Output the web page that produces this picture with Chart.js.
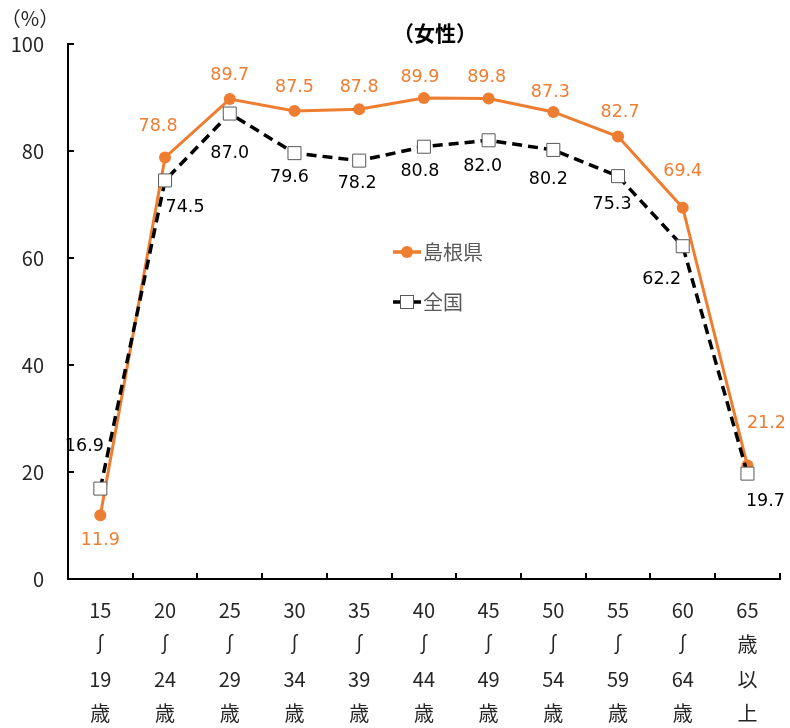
<!DOCTYPE html>
<html lang="ja">
<head>
<meta charset="utf-8">
<title>年齢階級別労働力率（女性）</title>
<script src="https://cdn.jsdelivr.net/npm/chart.js@4/dist/chart.umd.min.js"></script>
<style>
  html, body { margin: 0; padding: 0; background: #fff; }
  canvas { display: block; }
</style>
</head>
<body>
<canvas id="chart" width="790" height="728"></canvas>
<script>
// Age groups (one array per category, drawn as stacked lines under the axis)
const ageGroups = [
  ["15", "∫", "19", "歳"],
  ["20", "∫", "24", "歳"],
  ["25", "∫", "29", "歳"],
  ["30", "∫", "34", "歳"],
  ["35", "∫", "39", "歳"],
  ["40", "∫", "44", "歳"],
  ["45", "∫", "49", "歳"],
  ["50", "∫", "54", "歳"],
  ["55", "∫", "59", "歳"],
  ["60", "∫", "64", "歳"],
  ["65", "歳", "以", "上"]
];

// Labour force participation rate (%), women
const shimaneRates  = [11.9, 78.8, 89.7, 87.5, 87.8, 89.9, 89.8, 87.3, 82.7, 69.4, 21.2];
const nationalRates = [16.9, 74.5, 87.0, 79.6, 78.2, 80.8, 82.0, 80.2, 75.3, 62.2, 19.7];

const seriesNames = ["島根県", "全国"];
const yTickValues = [0, 20, 40, 60, 80, 100];

const chartTitle = "（女性）";
const unitLabel = "（%）";

// ---- styling ----
const ORANGE = "#ED7D31";
const BLACK = "#000000";
const TEXT = "#262626";
const LEGEND_TEXT = "#595959";
const CJK = "'Noto Sans CJK JP', 'Noto Sans', sans-serif";
const NUM = "'DejaVu Sans', sans-serif";

// value-label nudges (dx, dy in px from each point), kept apart from the data
const labelNudges = [
  [[0, 25], [-7, -31], [0, -24], [0, -23], [0, -22], [-4, -21], [-2, -21], [-3, -19], [2, -24], [0, -36], [19, -42]],
  [[-16, -42], [20, 27], [0, 40], [-5, 24], [-2, 23], [-4, 25], [-6, 26], [-5, 30], [-6, 28], [-21, 33], [18, 28]]
];

// Draws value labels, the title, the unit and the in-plot legend
const annotate = {
  id: "annotate",
  afterDatasetsDraw(chart) {
    const ctx = chart.ctx;
    ctx.save();
    ctx.textAlign = "center";
    ctx.textBaseline = "middle";
    ctx.font = "17.5px " + NUM;
    chart.data.datasets.forEach((ds, di) => {
      const meta = chart.getDatasetMeta(di);
      ctx.fillStyle = ds.labelColor;
      meta.data.forEach((pt, i) => {
        const [dx, dy] = labelNudges[di][i];
        ctx.fillText(ds.data[i].toFixed(1), pt.x + dx, pt.y + dy);
      });
    });
    ctx.restore();
  },
  afterDraw(chart) {
    const ctx = chart.ctx;
    const area = chart.chartArea;
    ctx.save();
    // title
    ctx.fillStyle = BLACK;
    ctx.textAlign = "center";
    ctx.textBaseline = "middle";
    ctx.font = "bold 21px " + CJK;
    ctx.fillText(chartTitle, 435, 33);
    // unit
    ctx.font = "20px " + CJK;
    ctx.fillStyle = TEXT;
    ctx.fillText(unitLabel, 30, 18);

    // legend
    const lx = area.left + 325;
    const rows = [252, 302];
    chart.data.datasets.forEach((ds, di) => {
      const y = rows[di];
      ctx.save();
      ctx.strokeStyle = ds.borderColor;
      ctx.lineWidth = 3.5;
      ctx.beginPath();
      ctx.moveTo(lx, y);
      ctx.lineTo(lx + 28, y);
      ctx.stroke();
      ctx.restore();
      const cx = lx + 14;
      if (ds.pointStyle === "rect") {
        ctx.fillStyle = "#fff";
        ctx.strokeStyle = LEGEND_TEXT;
        ctx.lineWidth = 1;
        ctx.fillRect(cx - 6.5, y - 6.5, 13, 13);
        ctx.strokeRect(cx - 6.5, y - 6.5, 13, 13);
      } else {
        ctx.fillStyle = ds.borderColor;
        ctx.beginPath();
        ctx.arc(cx, y, 6, 0, Math.PI * 2);
        ctx.fill();
      }
      ctx.fillStyle = LEGEND_TEXT;
      ctx.textAlign = "left";
      ctx.textBaseline = "middle";
      ctx.font = "20px " + CJK;
      ctx.fillText(ds.label, lx + 30, y);
    });
    ctx.restore();
  }
};

new Chart(document.getElementById("chart"), {
  type: "line",
  data: {
    labels: ageGroups,
    datasets: [
      {
        label: seriesNames[0],
        data: shimaneRates,
        borderColor: ORANGE,
        backgroundColor: ORANGE,
        borderWidth: 3,
        pointStyle: "circle",
        pointRadius: 6,
        pointBackgroundColor: ORANGE,
        pointBorderColor: ORANGE,
        pointBorderWidth: 0,
        labelColor: ORANGE,
        tension: 0,
        order: 1
      },
      {
        label: seriesNames[1],
        data: nationalRates,
        borderColor: BLACK,
        backgroundColor: "#ffffff",
        borderWidth: 3.5,
        borderDash: [10, 6],
        pointStyle: "rect",
        pointRadius: 9.2,
        pointBackgroundColor: "#ffffff",
        pointBorderColor: LEGEND_TEXT,
        pointBorderWidth: 1,
        labelColor: BLACK,
        tension: 0,
        order: 0
      }
    ]
  },
  options: {
    responsive: false,
    animation: false,
    layout: { padding: { top: 44, right: 10, left: 0, bottom: 0 } },
    plugins: {
      legend: { display: false },
      title: { display: false },
      tooltip: { enabled: false }
    },
    scales: {
      x: {
        type: "category",
        offset: true,
        grid: { offset: true, drawOnChartArea: false, drawTicks: true, tickLength: -6, color: BLACK, lineWidth: 2 },
        border: { color: BLACK, width: 2 },
        ticks: {
          color: TEXT,
          font: { family: CJK, size: 20, lineHeight: 1.725 },
          padding: 20,
          maxRotation: 0,
          minRotation: 0,
          autoSkip: false
        },
        afterFit(scale) { scale.height = 149; }
      },
      y: {
        min: 0,
        max: 100,
        grid: { drawOnChartArea: false, drawTicks: true, tickLength: -6, color: BLACK, lineWidth: 2 },
        border: { color: BLACK, width: 2 },
        ticks: {
          color: TEXT,
          font: { family: CJK, size: 20 },
          padding: 30
        },
        afterBuildTicks(scale) { scale.ticks = yTickValues.map(v => ({ value: v })); },
        afterFit(scale) { scale.width = 68; }
      }
    }
  },
  plugins: [annotate]
});
</script>
</body>
</html>
